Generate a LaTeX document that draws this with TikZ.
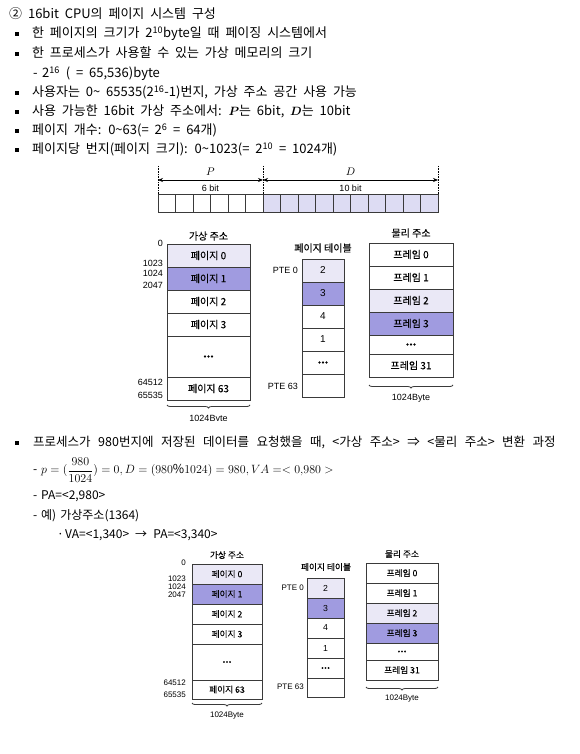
\documentclass[tikz,border=0pt]{standalone}
\usepackage{fontspec}
\usepackage{amsmath}
\usepackage{bm}
\setmainfont{Noto Sans CJK KR}
\newfontfamily\krbold{Noto Sans CJK KR}[FakeBold=0.12]
\newfontfamily\arialf{Liberation Sans}
\usetikzlibrary{decorations.pathreplacing,arrows.meta}
\definecolor{lightv}{HTML}{EAE8F6}
\definecolor{darkv}{HTML}{A09BE0}
\definecolor{bitv}{HTML}{DDDCF3}
\definecolor{edge}{HTML}{3A3A3A}
\newcommand\headsp{\fontsize{13}{15}\selectfont\spaceskip=0.45em\relax}
\newcommand\narrowsp{\fontsize{12}{14}\selectfont\spaceskip=0.34em\relax}
\newcommand\widesp{\fontsize{12.5}{14}\selectfont\spaceskip=0.6em\relax}
\tikzset{
  head/.style={anchor=west, inner sep=0pt, font=\headsp, text height=9.5pt, text depth=2.7pt},
  txt/.style={anchor=west, inner sep=0pt, font=\narrowsp, text height=9pt, text depth=2.5pt},
  wide/.style={anchor=west, inner sep=0pt, font=\widesp, text height=9pt, text depth=2.5pt},
  bul/.style={fill=black, minimum size=4.5pt, inner sep=0pt},
  cell/.style={draw=edge, line width=0.8pt, minimum width=17.5pt, minimum height=18pt, inner sep=0pt},
  rowA/.style={draw=edge, line width=0.9pt, inner sep=0pt, font=\krbold\fontsize{10}{10}\selectfont},
  rowB/.style={draw=edge, line width=0.8pt, inner sep=0pt, font=\krbold\fontsize{8.7}{9}\selectfont},
  labA/.style={inner sep=0pt, font=\krbold\fontsize{10}{10}\selectfont},
  labB/.style={inner sep=0pt, font=\krbold\fontsize{8.7}{9}\selectfont},
  numA/.style={anchor=east, inner sep=0pt, font=\arialf\fontsize{9}{9}\selectfont},
  numB/.style={anchor=east, inner sep=0pt, font=\arialf\fontsize{8}{8}\selectfont},
  brc/.style={decorate, decoration={brace, mirror, amplitude=3pt}, line width=0.8pt, draw=edge},
  dimarrow/.style={{Stealth[length=5pt,width=4pt]}-{Stealth[length=5pt,width=4pt]}, line width=0.7pt},
  guide/.style={densely dotted, line width=0.6pt}
}
\begin{document}
\begin{tikzpicture}[x=1pt,y=-1pt]
\useasboundingbox (0,0) rectangle (579,754);
\fill[white] (0,0) rectangle (579,754);

% ---------- header text ----------
\node[head] (t0) at (9,15) {② 16bit CPU의 페이지 시스템 구성};
\node[bul] (b1) at (17,34) {};
\node[head] (t1) at (32,34) {한 페이지의 크기가 2\textsuperscript{10}byte일 때 페이징 시스템에서};
\node[bul] (b2) at (17,54) {};
\node[head] (t2) at (32,54) {한 프로세스가 사용할 수 있는 가상 메모리의 크기};
\node[head] (d3) at (33,74) {-};
\node[head] (t3) at (42,74) {2\textsuperscript{16} ( = 65,536)byte};
\node[bul] (b4) at (17,93) {};
\node[head] (t4) at (32,93) {사용자는 0\textasciitilde{} 65535(2\textsuperscript{16}-1)번지, 가상 주소 공간 사용 가능};
\node[bul] (b5) at (17,112) {};
\node[head] (t5) at (32,112) {사용 가능한 16bit 가상 주소에서: $\bm{P}$는 6bit, $\bm{D}$는 10bit};
\node[bul] (b6) at (17,131) {};
\node[head] (t6) at (32,131) {페이지 개수: 0\textasciitilde63(= 2\textsuperscript{6} = 64개)};
\node[bul] (b7) at (17,150) {};
\node[head] (t7) at (32,150) {페이지당 번지(페이지 크기): 0\textasciitilde1023(= 2\textsuperscript{10} = 1024개)};

% ---------- bit bar ----------
\foreach \i in {0,...,5} {
  \node[cell] (c\i) at ({166.75+17.5*\i},203) {};
}
\foreach \i in {6,...,15} {
  \node[cell, fill=bitv] (c\i) at ({166.75+17.5*\i},203) {};
}
\coordinate (gl1) at (158,166); \coordinate (gl2) at (158,194);
\coordinate (gm1) at (263,166); \coordinate (gm2) at (263,194);
\coordinate (gr1) at (438,166); \coordinate (gr2) at (438,194);
\draw[guide] (gl1) -- (gl2);
\draw[guide] (gm1) -- (gm2);
\draw[guide] (gr1) -- (gr2);
\coordinate (al) at (158,180); \coordinate (am) at (263,180); \coordinate (ar) at (438,180);
\draw[dimarrow] (al) -- (am);
\draw[dimarrow] (am) -- (ar);
\node[inner sep=0pt, font=\fontsize{11}{12}\selectfont] (lp) at (210.5,172) {$P$};
\node[inner sep=0pt, font=\fontsize{11}{12}\selectfont] (ld) at (350.5,172) {$D$};
\node[inner sep=0pt, font=\arialf\fontsize{9}{10}\selectfont] (l6) at (210.5,188) {6 bit};
\node[inner sep=0pt, font=\arialf\fontsize{9}{10}\selectfont] (l10) at (350.5,188) {10 bit};

% ---------- diagram 1 ----------
\node[labA] (va1) at (208.5,236) {가상 주소};
\node[rowA, fill=lightv, minimum width=83pt, minimum height=23pt] (v10) at (208.5,255.5) {페이지 0};
\node[rowA, fill=darkv, minimum width=83pt, minimum height=23pt] (v11) at (208.5,278.5) {페이지 1};
\node[rowA, fill=white, minimum width=83pt, minimum height=23pt] (v12) at (208.5,301.5) {페이지 2};
\node[rowA, fill=white, minimum width=83pt, minimum height=23pt] (v13) at (208.5,324.5) {페이지 3};
\node[rowA, fill=white, minimum width=83pt, minimum height=41pt] (v1d) at (208.5,356.5) {\textbf{...}};
\node[rowA, fill=white, minimum width=83pt, minimum height=23pt] (v163) at (208.5,388.5) {페이지 63};
\node[numA] (n10) at (163,243) {0};
\node[numA] (n11) at (163,263) {1023};
\node[numA] (n12) at (163,273) {1024};
\node[numA] (n13) at (163,285) {2047};
\node[numA] (n14) at (163,382) {64512};
\node[numA] (n15) at (163,395) {65535};
\coordinate (vb1l) at (167,405); \coordinate (vb1r) at (250,405);
\draw[brc] (vb1l) -- (vb1r);
\begin{scope}
  \clip (0,0) rectangle (579,420.5);
  \node[numA, anchor=center] (vby1) at (208.5,419) {1024Byte};
\end{scope}

\node[labA] (pt1) at (323,248) {페이지 테이블};
\node[rowA, fill=lightv, minimum width=42pt, minimum height=23pt] (p10) at (323,270.5) {\arialf 2};
\node[rowA, fill=darkv, minimum width=42pt, minimum height=23pt] (p11) at (323,293.5) {\arialf 3};
\node[rowA, fill=white, minimum width=42pt, minimum height=23pt] (p12) at (323,316.5) {\arialf 4};
\node[rowA, fill=white, minimum width=42pt, minimum height=23pt] (p13) at (323,339.5) {\arialf 1};
\node[rowA, fill=white, minimum width=42pt, minimum height=23pt] (p1d) at (323,362.5) {\textbf{...}};
\node[rowA, fill=white, minimum width=42pt, minimum height=23pt] (p163) at (323,385.5) {};
\node[numA] (pte10) at (298,270) {PTE 0};
\node[numA] (pte163) at (298,386) {PTE 63};

\node[labA] (pa1) at (411,233) {물리 주소};
\node[rowA, fill=white, minimum width=84pt, minimum height=23pt] (f10) at (411,254.5) {프레임 0};
\node[rowA, fill=white, minimum width=84pt, minimum height=23pt] (f11) at (411,277.5) {프레임 1};
\node[rowA, fill=lightv, minimum width=84pt, minimum height=23pt] (f12) at (411,300.5) {프레임 2};
\node[rowA, fill=darkv, minimum width=84pt, minimum height=23pt] (f13) at (411,323.5) {프레임 3};
\node[rowA, fill=white, minimum width=84pt, minimum height=19pt] (f1d) at (411,344.5) {\textbf{...}};
\node[rowA, fill=white, minimum width=84pt, minimum height=23pt] (f131) at (411,365.5) {프레임 31};
\coordinate (fb1l) at (369,385); \coordinate (fb1r) at (453,385);
\draw[brc] (fb1l) -- (fb1r);
\node[numA, anchor=center] (fby1) at (411,398) {1024Byte};

% ---------- section 2 text ----------
\node[bul] (b8) at (17,443) {};
\node[wide] (t8) at (33,443) {프로세스가 980번지에 저장된 데이터를 요청했을 때, <가상 주소> ⇒ <물리 주소> 변환 과정};
\node[txt] (d9) at (33,470) {-};
\node[anchor=west, inner sep=0pt, font=\fontsize{12.3}{14}\selectfont] (t9) at (41,470) {$p=(\dfrac{980}{1024})=0, D=(980\%1024)=980, VA=<0{,}980>$};
\node[txt] (d10) at (33,496) {-};
\node[txt] (t10) at (41,496) {PA=<2,980>};
\node[txt] (d11) at (33,516) {-};
\node[txt] (t11) at (41,516) {예) 가상주소(1364)};
\node[txt] (d12) at (57,535) {·};
\node[txt] (t12) at (65,535) {VA=<1,340> \,→\, PA=<3,340>};

% ---------- diagram 2 ----------
\node[labB] (va2) at (227,555) {가상 주소};
\node[rowB, fill=lightv, minimum width=70pt, minimum height=20pt] (v20) at (227,574) {페이지 0};
\node[rowB, fill=darkv, minimum width=70pt, minimum height=20pt] (v21) at (227,594) {페이지 1};
\node[rowB, fill=white, minimum width=70pt, minimum height=20pt] (v22) at (227,614) {페이지 2};
\node[rowB, fill=white, minimum width=70pt, minimum height=20pt] (v23) at (227,634) {페이지 3};
\node[rowB, fill=white, minimum width=70pt, minimum height=36pt] (v2d) at (227,662) {\textbf{...}};
\node[rowB, fill=white, minimum width=70pt, minimum height=19pt] (v263) at (227,689.5) {페이지 63};
\node[numB] (n20) at (186,563) {0};
\node[numB] (n21) at (186,579) {1023};
\node[numB] (n22) at (186,587) {1024};
\node[numB] (n23) at (186,595) {2047};
\node[numB] (n24) at (186,683) {64512};
\node[numB] (n25) at (186,695) {65535};
\coordinate (vb2l) at (192,703); \coordinate (vb2r) at (262,703);
\draw[brc] (vb2l) -- (vb2r);
\node[numB, anchor=center] (vby2) at (227,716) {1024Byte};

\node[labB] (pt2) at (326,567) {페이지 테이블};
\node[rowB, fill=lightv, minimum width=37pt, minimum height=20pt] (p20) at (325.5,588) {\arialf 2};
\node[rowB, fill=darkv, minimum width=37pt, minimum height=20pt] (p21) at (325.5,608) {\arialf 3};
\node[rowB, fill=white, minimum width=37pt, minimum height=20pt] (p22) at (325.5,628) {\arialf 4};
\node[rowB, fill=white, minimum width=37pt, minimum height=20pt] (p23) at (325.5,648) {\arialf 1};
\node[rowB, fill=white, minimum width=37pt, minimum height=20pt] (p2d) at (325.5,668) {\textbf{...}};
\node[rowB, fill=white, minimum width=37pt, minimum height=19pt] (p263) at (325.5,687.5) {};
\node[numB] (pte20) at (304,588) {PTE 0};
\node[numB] (pte263) at (304,687) {PTE 63};

\node[labB] (pa2) at (402,554) {물리 주소};
\node[rowB, fill=white, minimum width=72pt, minimum height=20pt] (f20) at (402,573) {프레임 0};
\node[rowB, fill=white, minimum width=72pt, minimum height=20pt] (f21) at (402,593) {프레임 1};
\node[rowB, fill=lightv, minimum width=72pt, minimum height=20pt] (f22) at (402,613) {프레임 2};
\node[rowB, fill=darkv, minimum width=72pt, minimum height=20pt] (f23) at (402,633) {프레임 3};
\node[rowB, fill=white, minimum width=72pt, minimum height=17pt] (f2d) at (402,651.5) {\textbf{...}};
\node[rowB, fill=white, minimum width=72pt, minimum height=20pt] (f231) at (402,670) {프레임 31};
\coordinate (fb2l) at (366,687); \coordinate (fb2r) at (438,687);
\draw[brc] (fb2l) -- (fb2r);
\node[numB, anchor=center] (fby2) at (402,699) {1024Byte};
\end{tikzpicture}
\end{document}
